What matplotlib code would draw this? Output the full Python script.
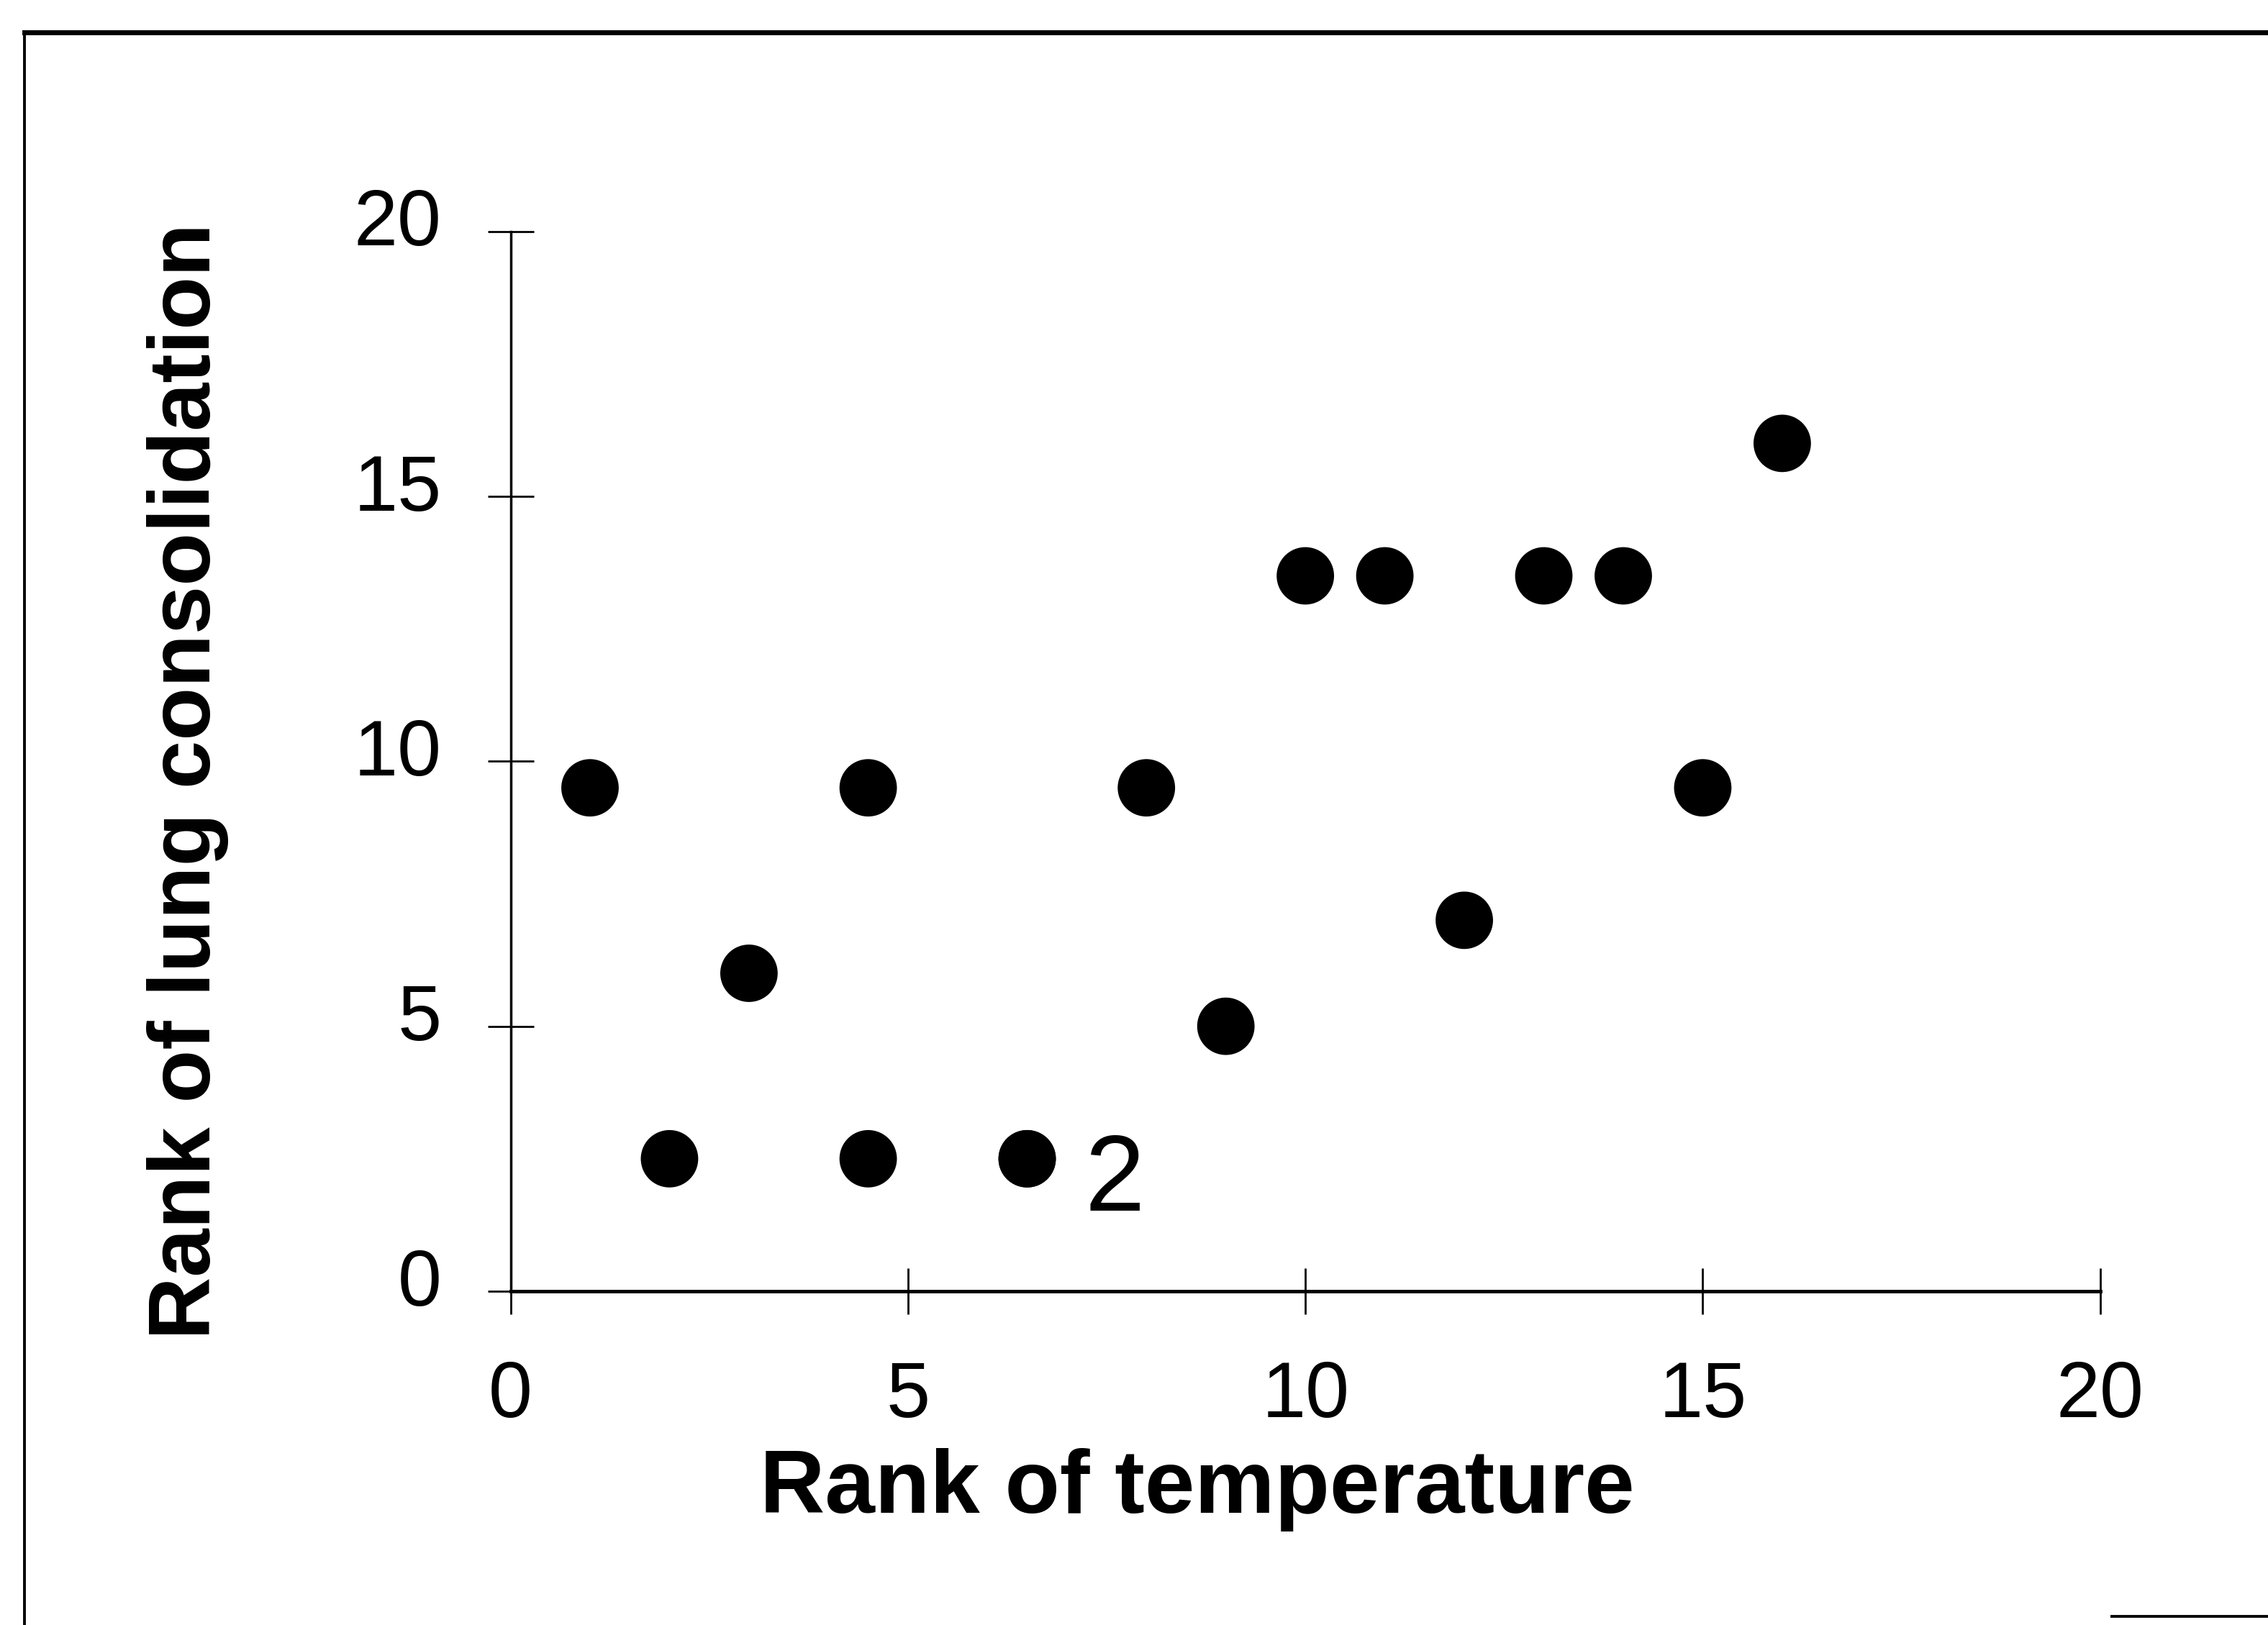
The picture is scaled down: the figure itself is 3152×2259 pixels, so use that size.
"""Spearman rank scatter: temperature vs lung consolidation."""
import matplotlib
matplotlib.use("Agg")
import matplotlib.pyplot as plt
from matplotlib.lines import Line2D
from matplotlib.transforms import ScaledTranslation

plt.rcParams["font.family"] = ["Liberation Sans", "DejaVu Sans"]

TEMP_RANK = [1, 2, 3, 4.5, 4.5, 6.5, 6.5, 8, 9, 10, 11, 12, 13, 14, 15, 16]
LUNG_RANK = [9.5, 2.5, 6, 9.5, 2.5, 2.5, 2.5, 9.5, 5, 13.5, 13.5, 7, 13.5, 13.5, 9.5, 16]
TICKS = [0, 5, 10, 15, 20]
DUP_NOTE = "2"          # two patients share (6.5, 2.5)
DUP_POS = (7.6, 2.05)

fig = plt.figure(figsize=(31.52, 22.59), dpi=100)
ax = fig.add_axes([0.2251, 0.2054, 0.7009, 0.6522])

ax.scatter(TEMP_RANK, LUNG_RANK, s=3300, c="black", edgecolors="none", zorder=3)
ax.text(*DUP_POS, DUP_NOTE, fontsize=108, ha="center", va="center")

ax.set_xlim(0, 20)
ax.set_ylim(0, 20)
ax.set_xticks(TICKS)
ax.set_yticks(TICKS)
for side in ("top", "right"):
    ax.spines[side].set_visible(False)
ax.spines["left"].set_linewidth(2.5)
ax.spines["bottom"].set_linewidth(3.5)
ax.tick_params(direction="inout", length=46, width=2, labelsize=79, pad=46, colors="black")
# y tick labels sit a little above their ticks in the original
shift = ScaledTranslation(0, 0.2, fig.dpi_scale_trans)
for lab in ax.get_yticklabels():
    lab.set_transform(lab.get_transform() + shift)

ax.set_xlabel("Rank of temperature", fontsize=90, fontweight="bold")
ax.xaxis.set_label_coords(0.432, -0.148)
ax.set_ylabel("Rank of lung consolidation", fontsize=87, fontweight="bold", va="center")
ax.yaxis.set_label_coords(-0.203, 0.481)

# scanned page border (top and left edges, a stub bottom right)
fig.add_artist(Line2D([0.0107, 1.0], [0.980, 0.980], color="black", lw=5, transform=fig.transFigure))
fig.add_artist(Line2D([0.0107, 0.0107], [0.0, 0.980], color="black", lw=2.8, transform=fig.transFigure))
fig.add_artist(Line2D([0.931, 1.0], [0.0055, 0.0055], color="black", lw=2.8, transform=fig.transFigure))

fig.savefig("out.png", dpi=100, facecolor="white")
